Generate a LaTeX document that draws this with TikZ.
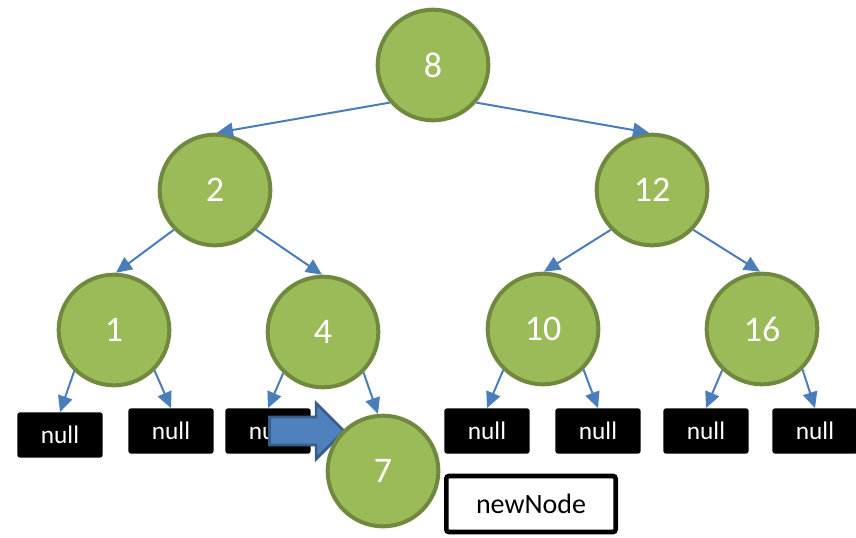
\documentclass[tikz,border=0pt]{standalone}
\usepackage{fontspec}
\setmainfont{Carlito}
\usetikzlibrary{arrows.meta,shapes.arrows}
\definecolor{leaf}{HTML}{9BBB59}
\definecolor{leafline}{HTML}{71893F}
\definecolor{link}{HTML}{4A7EBB}
\definecolor{pushfill}{HTML}{4F81BD}
\definecolor{pushline}{HTML}{385D8A}
\tikzset{
  tnode/.style={circle,fill=leaf,draw=leafline,line width=3pt,minimum size=83pt,
    inner sep=0pt,text=white,font=\fontsize{27}{30}\selectfont},
  nullbox/.style={rectangle,rounded corners=2pt,fill=black,minimum width=64pt,
    minimum height=34pt,inner sep=0pt,text=white,font=\fontsize{19}{22}\selectfont},
  link/.style={draw=link,line width=1.5pt,-{Triangle[length=12pt,width=11pt]}},
}
\begin{document}
\begin{tikzpicture}[x=0.75pt,y=-0.75pt]
\useasboundingbox (0,0) rectangle (856,537);
% null leaves
\node[nullbox] (z1) at (60,435) {null};
\node[nullbox] (z2) at (171,431) {null};
\node[nullbox] (z3) at (268,431) {null};
\node[nullbox] (z4) at (487,431) {null};
\node[nullbox] (z5) at (598,431) {null};
\node[nullbox] (z6) at (706,431) {null};
\node[nullbox] (z7) at (815,431) {null};
% tree nodes
\node[tnode] (n8) at (433,65) {8};
\node[tnode] (n2) at (215,190) {2};
\node[tnode] (n12) at (652,190) {12};
\node[tnode] (n1) at (114,330) {1};
\node[tnode] (n4) at (323,332) {4};
\node[tnode] (n10) at (543,329) {10};
\node[tnode] (n16) at (762,329) {16};
% insertion arrow and new node
\node[single arrow,fill=pushfill,draw=pushline,line width=2pt,minimum height=56pt,
  minimum width=42pt,single arrow head extend=8pt,single arrow tip angle=90,
  inner sep=0pt,anchor=tip] (push) at (346,431) {\phantom{\rule{1pt}{14pt}}};
\node[tnode] (n7) at (383,471) {7};
\node[draw=black,line width=3.5pt,rounded corners=2pt,fill=white,minimum width=127pt,
  minimum height=42pt,inner sep=0pt,font=\fontsize{21}{24}\selectfont] (nn) at (531,504) {newNode};
% links
\draw[link] (n8.221) -- (n2.88);
\draw[link] (n8.319) -- (n12.93);
\draw[link] (n2.224) -- (n1.88);
\draw[link] (n2.316) -- (n4.91);
\draw[link] (n12.224) -- (n10.89);
\draw[link] (n12.316) -- (n16.92);
\draw[link] (n1.226) -- (z1.north);
\draw[link] (n1.315) -- (z2.north);
\draw[link] (n4.226) -- (z3.north);
\draw[link] (n4.315) -- (n7.95);
\draw[link] (n10.226) -- (z4.north);
\draw[link] (n10.315) -- (z5.north);
\draw[link] (n16.226) -- (z6.north);
\draw[link] (n16.315) -- (z7.north);
\end{tikzpicture}
\end{document}
